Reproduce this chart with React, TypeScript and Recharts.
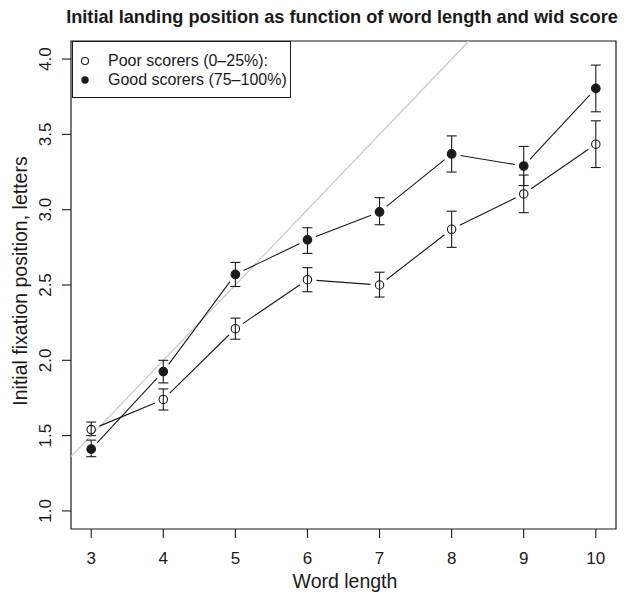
import { LineChart, Line, XAxis, YAxis, ErrorBar, ReferenceLine, ReferenceArea } from 'recharts';

const wordLength = [3, 4, 5, 6, 7, 8, 9, 10];
const poorMean = [1.54, 1.74, 2.21, 2.535, 2.5, 2.87, 3.105, 3.435];
const poorLo = [1.5, 1.67, 2.14, 2.455, 2.42, 2.75, 2.98, 3.28];
const poorHi = [1.59, 1.81, 2.28, 2.615, 2.585, 2.99, 3.23, 3.59];
const goodMean = [1.41, 1.925, 2.57, 2.8, 2.985, 3.37, 3.29, 3.805];
const goodLo = [1.36, 1.85, 2.49, 2.71, 2.9, 3.25, 3.16, 3.65];
const goodHi = [1.47, 2.0, 2.65, 2.88, 3.08, 3.49, 3.42, 3.96];
const xTicks = [3, 4, 5, 6, 7, 8, 9, 10];
const yTicks = [1.0, 1.5, 2.0, 2.5, 3.0, 3.5, 4.0];
// diagonal guide: landing at word centre (length / 2)
const guideStart = { x: 2.72, y: 1.36 };
const guideEnd = { x: 8.24, y: 4.12 };

const data = wordLength.map((x, i) => ({
  x,
  poor: poorMean[i],
  good: goodMean[i],
  poorErr: [poorMean[i] - poorLo[i], poorHi[i] - poorMean[i]],
  goodErr: [goodMean[i] - goodLo[i], goodHi[i] - goodMean[i]],
}));

const FONT = '"Liberation Sans", Arial, Helvetica, sans-serif';
const INK = '#1a1a1a';
const GAP = 9;

// R type="b": point plus segment to next point, with gaps around both points
function makeDot(filled: boolean) {
  return (props: any) => {
    const { cx, cy, index, points } = props;
    const next = points && points[index + 1];
    let seg = null;
    if (next) {
      const dx = next.x - cx;
      const dy = next.y - cy;
      const len = Math.sqrt(dx * dx + dy * dy);
      if (len > GAP * 2) {
        const ux = dx / len;
        const uy = dy / len;
        seg = (
          <line
            x1={cx + ux * GAP}
            y1={cy + uy * GAP}
            x2={next.x - ux * GAP}
            y2={next.y - uy * GAP}
            stroke={INK}
            strokeWidth={1.1}
          />
        );
      }
    }
    return (
      <g key={`dot-${filled ? 'g' : 'p'}-${index}`}>
        {seg}
        <circle
          cx={cx}
          cy={cy}
          r={filled ? 4.3 : 4.2}
          fill={filled ? INK : 'none'}
          stroke={INK}
          strokeWidth={1.1}
        />
      </g>
    );
  };
}

const XTick = ({ x, y, payload }: any) => (
  <text x={x} y={y + 24} textAnchor="middle" fontSize={17} fill={INK} fontFamily={FONT}>
    {payload.value}
  </text>
);

const YTick = ({ x, y, payload }: any) => (
  <text
    x={x - 9}
    y={y}
    textAnchor="middle"
    fontSize={17}
    fill={INK}
    fontFamily={FONT}
    transform={`rotate(-90 ${x - 9} ${y})`}
  >
    {Number(payload.value).toFixed(1)}
  </text>
);

const LegendBox = () => (
  <div
    style={{
      position: 'absolute',
      left: 72,
      top: 41,
      width: 219,
      height: 57,
      border: `1.2px solid ${INK}`,
      background: '#fff',
      fontFamily: FONT,
      fontSize: 16,
      color: INK,
      boxSizing: 'border-box',
    }}
  >
    <svg width={20} height={50} style={{ position: 'absolute', left: 4, top: 0 }}>
      <circle cx={8} cy={19} r={3.5} fill="none" stroke={INK} strokeWidth={1.1} />
      <circle cx={8} cy={38} r={3.7} fill={INK} />
    </svg>
    <div style={{ position: 'absolute', left: 35, top: 9, lineHeight: '19px', whiteSpace: 'nowrap' }}>
      Poor scorers (0–25%):
      <br />
      Good scorers (75–100%)
    </div>
  </div>
);

export default function App() {
  return (
    <div style={{ position: 'absolute', left: 0, top: 0, width: 624, height: 597, background: '#fff' }}>
      <LineChart
        width={624}
        height={597}
        data={data}
        margin={{ top: 41, right: 8, bottom: 0, left: 0 }}
      >
        <text x={342} y={23} textAnchor="middle" fontSize={18.2} fontWeight="bold" fill={INK} fontFamily={FONT}>
          Initial landing position as function of word length and wid score
        </text>
        <text x={345} y={588} textAnchor="middle" fontSize={19.5} fill={INK} fontFamily={FONT}>
          Word length
        </text>
        <text
          x={27}
          y={281}
          textAnchor="middle"
          fontSize={19.5}
          fill={INK}
          fontFamily={FONT}
          transform="rotate(-90 27 281)"
        >
          Initial fixation position, letters
        </text>
        <XAxis
          type="number"
          dataKey="x"
          domain={[2.72, 10.28]}
          ticks={xTicks}
          allowDataOverflow
          height={68}
          axisLine={false}
          tickSize={9}
          tickLine={{ stroke: INK, strokeWidth: 1.1 }}
          tick={<XTick />}
        />
        <YAxis
          type="number"
          domain={[0.88, 4.12]}
          ticks={yTicks}
          allowDataOverflow
          width={71}
          axisLine={false}
          tickSize={9}
          tickLine={{ stroke: INK, strokeWidth: 1.1 }}
          tick={<YTick />}
        />
        <ReferenceLine
          segment={[guideStart, guideEnd]}
          stroke="#c8c8c8"
          strokeWidth={1.2}
        />
        <ReferenceArea
          x1={2.72}
          x2={10.28}
          y1={0.88}
          y2={4.12}
          fill="none"
          stroke={INK}
          strokeWidth={1.2}
          fillOpacity={0}
        />
        <Line
          dataKey="poor"
          stroke="none"
          dot={makeDot(false)}
          activeDot={false}
          isAnimationActive={false}
        >
          <ErrorBar dataKey="poorErr" width={5} stroke={INK} strokeWidth={1.1} direction="y" />
        </Line>
        <Line
          dataKey="good"
          stroke="none"
          dot={makeDot(true)}
          activeDot={false}
          isAnimationActive={false}
        >
          <ErrorBar dataKey="goodErr" width={5} stroke={INK} strokeWidth={1.1} direction="y" />
        </Line>
      </LineChart>
      <LegendBox />
    </div>
  );
}
